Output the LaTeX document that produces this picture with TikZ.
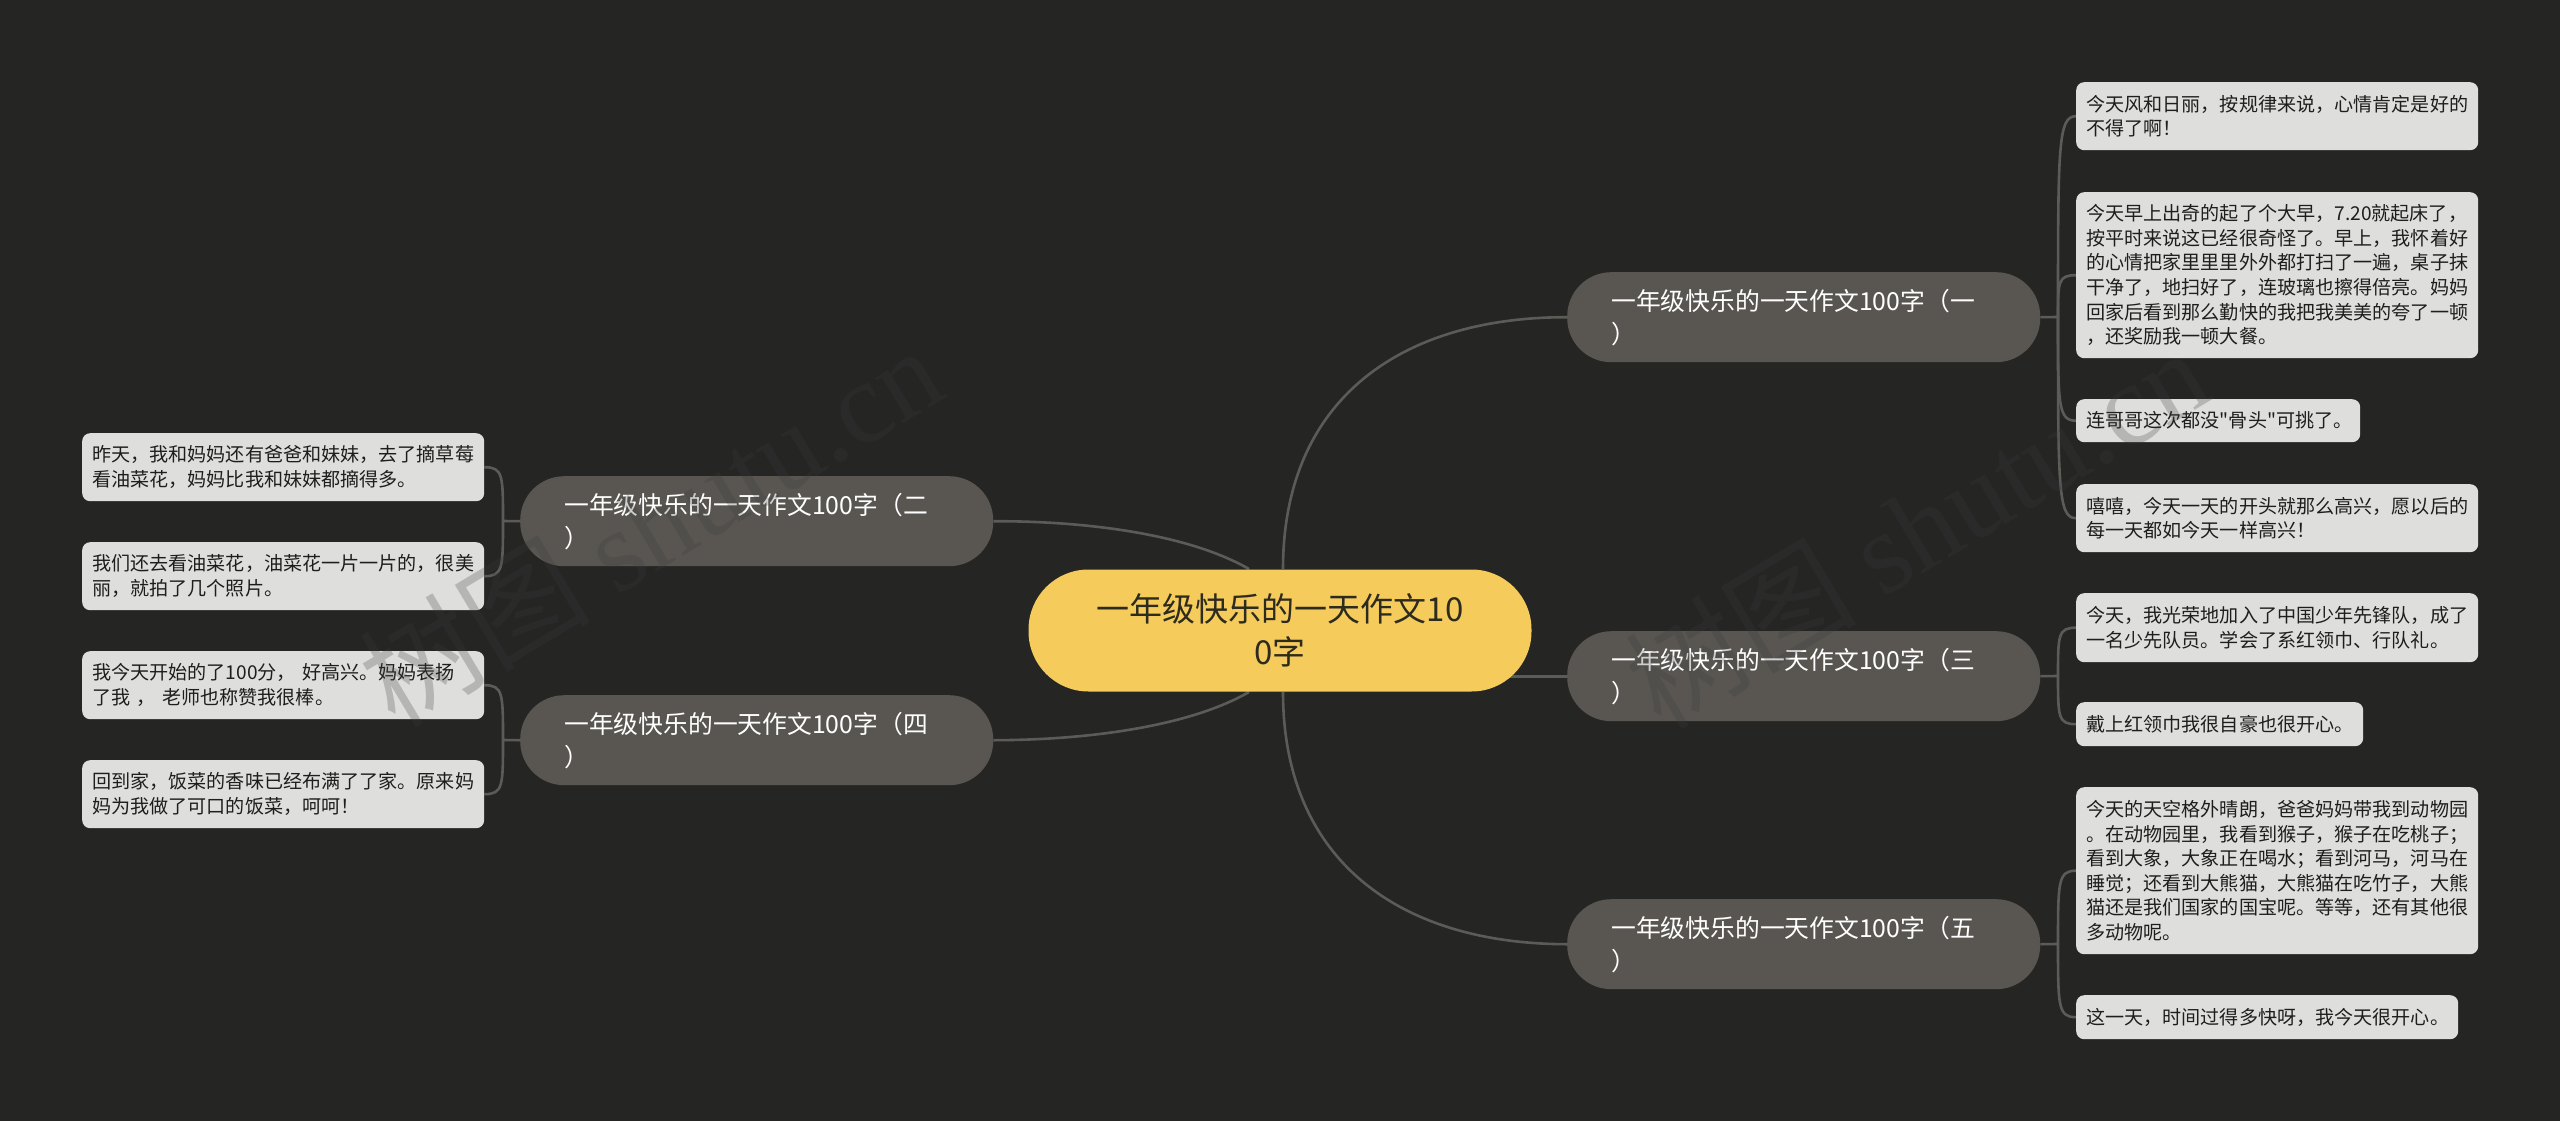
\documentclass[tikz,border=0pt]{standalone}
\usepackage{fontspec}
\newfontfamily\cjkfont{Noto Sans CJK SC}
\newfontfamily\wmlatin{Liberation Serif}
\usetikzlibrary{calc,backgrounds}
\definecolor{bgc}{HTML}{252524}
\definecolor{rootc}{HTML}{F5CB5C}
\definecolor{roott}{HTML}{2D2A1E}
\definecolor{branchc}{HTML}{595652}
\definecolor{leafc}{HTML}{DEDEDC}
\definecolor{leaft}{HTML}{1E1E1E}
\definecolor{linec}{HTML}{5C5B58}
\definecolor{wmc}{HTML}{3C3C3C}
\tikzset{
  x=1pt,y=-1pt,
  rootbox/.style={fill=rootc,text=roott,rounded corners=60pt,minimum width=503pt,minimum height=122pt,inner sep=0pt,align=center,font=\cjkfont\fontsize{33}{43.5}\selectfont},
  branchbox/.style={fill=branchc,text=white,rounded corners=44pt,minimum width=473pt,minimum height=90pt,inner xsep=44pt,inner ysep=0pt,text width=385pt,align=left,anchor=north west,font=\cjkfont\fontsize{24.8}{33}\selectfont},
  leafbox/.style={fill=leafc,text=leaft,rounded corners=8pt,inner xsep=10pt,inner ysep=0pt,align=left,anchor=north west,font=\cjkfont\fontsize{19.1}{24.6}\selectfont},
  link/.style={draw=linec,line width=2.6pt},
  wm/.style={text=wmc,opacity=.25,rotate=31,inner sep=0pt,font=\cjkfont\fontsize{116}{116}\selectfont},
}
\newcommand{\rlink}[2]{\draw[link] (#1) .. controls ($(#1)!.85!(#1|-#2.west)$) and (#1|-#2.west) .. (#2.west);}
\newcommand{\llink}[2]{\draw[link] (#1) .. controls ($(#1)!.85!(#1|-#2.east)$) and (#1|-#2.east) .. (#2.east);}
\begin{document}
\begin{tikzpicture}
\useasboundingbox (0,0) rectangle (2560,1121);
% nodes
\node[rootbox] (root) at (1280,630.5) {一年级快乐的一天作文10\\0字};
\node[branchbox] (b1) at (1567,272) {一年级快乐的一天作文100字（一\\）};
\node[branchbox] (b2) at (520,476) {一年级快乐的一天作文100字（二\\）};
\node[branchbox] (b3) at (1567,631) {一年级快乐的一天作文100字（三\\）};
\node[branchbox] (b4) at (520,695) {一年级快乐的一天作文100字（四\\）};
\node[branchbox] (b5) at (1567,899) {一年级快乐的一天作文100字（五\\）};
\node[leafbox,text width=382pt,minimum height=68pt] (l1) at (2076,82) {今天风和日丽，按规律来说，心情肯定是好的\\不得了啊！};
\node[leafbox,text width=382pt,minimum height=166pt] (l2) at (2076,192) {今天早上出奇的起了个大早，7.20就起床了，\\按平时来说这已经很奇怪了。早上，我怀着好\\的心情把家里里里外外都打扫了一遍，桌子抹\\干净了，地扫好了，连玻璃也擦得倍亮。妈妈\\回家后看到那么勤快的我把我美美的夸了一顿\\，还奖励我一顿大餐。};
\node[leafbox,text width=264pt,minimum height=43pt] (l3) at (2076,399) {连哥哥这次都没"骨头"可挑了。};
\node[leafbox,text width=382pt,minimum height=68pt] (l4) at (2076,484) {嘻嘻，今天一天的开头就那么高兴，愿以后的\\每一天都如今天一样高兴！};
\node[leafbox,text width=382pt,minimum height=69pt] (l5) at (2076,593) {今天，我光荣地加入了中国少年先锋队，成了\\一名少先队员。学会了系红领巾、行队礼。};
\node[leafbox,text width=267pt,minimum height=44pt] (l6) at (2076,702) {戴上红领巾我很自豪也很开心。};
\node[leafbox,text width=382pt,minimum height=167pt] (l7) at (2076,787) {今天的天空格外晴朗，爸爸妈妈带我到动物园\\。在动物园里，我看到猴子，猴子在吃桃子；\\看到大象，大象正在喝水；看到河马，河马在\\睡觉；还看到大熊猫，大熊猫在吃竹子，大熊\\猫还是我们国家的国宝呢。等等，还有其他很\\多动物呢。};
\node[leafbox,text width=362pt,minimum height=44pt] (l8) at (2076,995) {这一天，时间过得多快呀，我今天很开心。};
\node[leafbox,text width=382pt,minimum height=68pt] (a1) at (82,433) {昨天，我和妈妈还有爸爸和妹妹，去了摘草莓\\看油菜花，妈妈比我和妹妹都摘得多。};
\node[leafbox,text width=382pt,minimum height=68pt] (a2) at (82,542) {我们还去看油菜花，油菜花一片一片的，很美\\丽，就拍了几个照片。};
\node[leafbox,text width=382pt,minimum height=68pt] (a3) at (82,651) {我今天开始的了100分， 好高兴。妈妈表扬\\了我 ， 老师也称赞我很棒。};
\node[leafbox,text width=382pt,minimum height=68pt] (a4) at (82,760) {回到家，饭菜的香味已经布满了了家。原来妈\\妈为我做了可口的饭菜，呵呵！};
% connector helpers
\coordinate (rt) at (1283,569);
\coordinate (rb) at (1283,692);
\coordinate (lt) at (1249,569);
\coordinate (lb) at (1249,692);
\coordinate (s1) at (2058,317);
\coordinate (s3) at (2058,676);
\coordinate (s5) at (2058,944);
\coordinate (s2) at (503,521);
\coordinate (s4) at (503,740);
\begin{scope}[on background layer]
\fill[bgc] (0,0) rectangle (2560,1121);
\draw[link] (rt) .. controls (1283,400) and (1400,317) .. (b1.west);
\draw[link] (rb) .. controls (1283,861) and (1400,944) .. (b5.west);
\draw[link] (root.center |- b3.west) -- (b3.west);
\draw[link] (lt) .. controls (1190,535) and (1090,521) .. (b2.east);
\draw[link] (lb) .. controls (1190,726) and (1090,740) .. (b4.east);
\draw[link] (b1.east) -- (s1);
\draw[link] (b3.east) -- (s3);
\draw[link] (b5.east) -- (s5);
\draw[link] (b2.west) -- (s2);
\draw[link] (b4.west) -- (s4);
\rlink{s1}{l1}\rlink{s1}{l2}\rlink{s1}{l3}\rlink{s1}{l4}
\rlink{s3}{l5}\rlink{s3}{l6}
\rlink{s5}{l7}\rlink{s5}{l8}
\llink{s2}{a1}\llink{s2}{a2}
\llink{s4}{a3}\llink{s4}{a4}
\end{scope}
% watermark
\node[wm] (wm1) at (650,525) {树图 {\wmlatin shutu.cn}};
\node[wm] (wm2) at (1916,527) {树图 {\wmlatin shutu.cn}};
\end{tikzpicture}
\end{document}
